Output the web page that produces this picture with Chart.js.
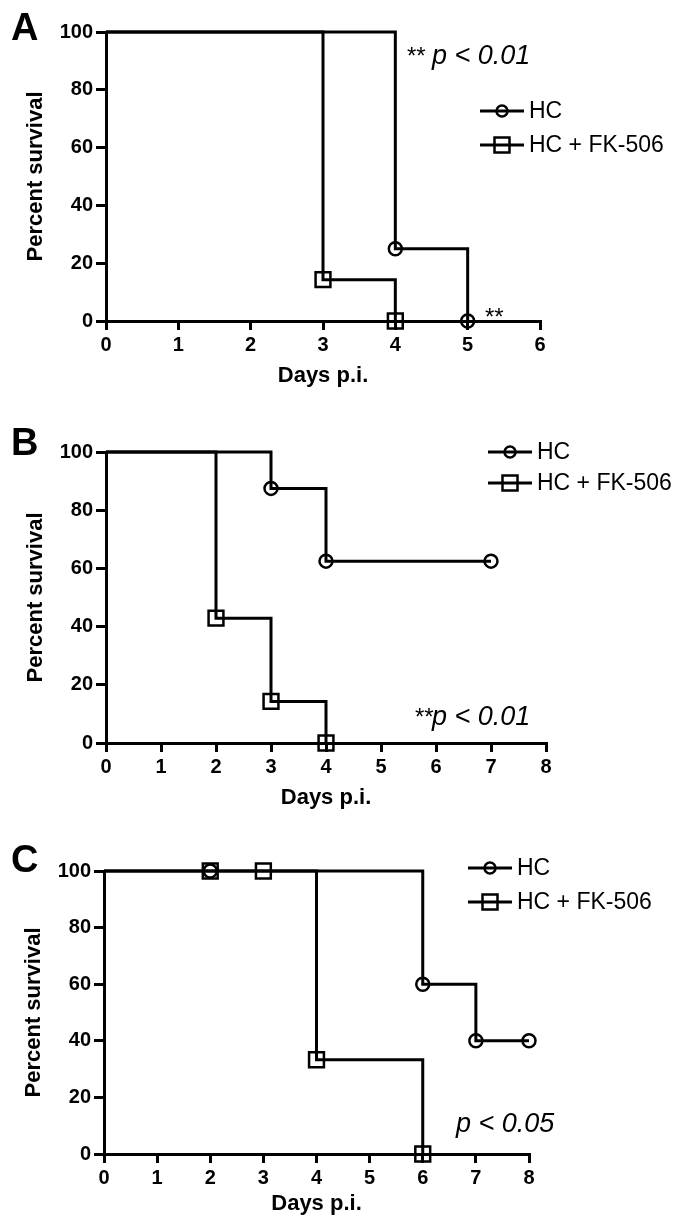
<!DOCTYPE html>
<html>
<head>
<meta charset="utf-8">
<script src="https://cdn.jsdelivr.net/npm/chart.js@4"></script>
<style>
  body { margin: 0; background: #fff; }
  #wrap { position: relative; width: 682px; height: 1228px; }
  .panel { position: absolute; left: 0; }
</style>
</head>
<body>
<div id="wrap">
  <div class="panel" style="top:0;width:682px;height:400px"><canvas id="panelA"></canvas></div>
  <div class="panel" style="top:400px;width:682px;height:422px"><canvas id="panelB"></canvas></div>
  <div class="panel" style="top:815px;width:682px;height:413px"><canvas id="panelC"></canvas></div>
</div>
<script>
// survival data (days p.i. / percent survival)
var seriesNames = ["HC", "HC + FK-506"];

var daysA_HC = [0, 4, 5];
var survA_HC = [100, 25, 0];
var daysA_FK = [0, 3, 4];
var survA_FK = [100, 14.3, 0];

var daysB_HC = [0, 3, 4, 7];
var survB_HC = [100, 87.5, 62.5, 62.5];
var daysB_FK = [0, 2, 3, 4];
var survB_FK = [100, 42.9, 14.3, 0];

var daysC_HC = [0, 2, 6, 7, 8];
var survC_HC = [100, 100, 60, 40, 40];
var daysC_FK = [0, 2, 3, 4, 6];
var survC_FK = [100, 100, 100, 33.3, 0];

var xMaxA = 6, xMaxB = 8, xMaxC = 8;
var yTicks = [0, 20, 40, 60, 80, 100];

var FONT = "'Liberation Sans', Arial, sans-serif";
var LW = 3;

function pts(days, surv) {
  return days.map(function (d, i) { return { x: d, y: surv[i] }; });
}

function kmSet(label, days, surv, style, r) {
  return {
    label: label,
    data: pts(days, surv),
    stepped: true,
    borderColor: '#000',
    borderWidth: LW,
    pointStyle: style,
    pointRadius: days.map(function (d, i) { return i === 0 ? 0 : r; }),
    pointBorderWidth: 2.5,
    pointBorderColor: '#000',
    pointBackgroundColor: 'rgba(0,0,0,0)',
    clip: false
  };
}

// legend + annotations drawn onto the canvas
var extrasPlugin = {
  id: 'extras',
  afterDraw: function (chart) {
    var o = chart.options.plugins.extras;
    var c = chart.ctx;
    c.save();
    c.fillStyle = '#000';
    c.strokeStyle = '#000';
    // panel letter
    c.font = 'bold 38px ' + FONT;
    c.textBaseline = 'alphabetic';
    c.textAlign = 'left';
    c.fillText(o.letter, 11, o.letterY);
    // legend
    o.legendY.forEach(function (y, i) {
      var x0 = o.legendX, x1 = o.legendX + 44, xm = (x0 + x1) / 2;
      c.lineWidth = LW;
      c.beginPath(); c.moveTo(x0, y); c.lineTo(x1, y); c.stroke();
      c.lineWidth = 2.5;
      c.beginPath();
      if (i === 0) c.arc(xm, y, 5.5, 0, Math.PI * 2);
      else c.rect(xm - 7.5, y - 7.5, 15, 15);
      c.stroke();
      c.font = '23px ' + FONT;
      c.textBaseline = 'middle';
      c.fillText(seriesNames[i], x1 + 5, y + 1);
    });
    // p value
    c.textBaseline = 'alphabetic';
    var x = o.pX;
    if (o.stars) {
      c.font = '24px ' + FONT;
      c.fillText('**', x, o.pY);
      x += o.starGap;
    }
    c.font = 'italic 27px ' + FONT;
    c.fillText(o.pText, x, o.pY);
    if (o.extraStar) {
      c.font = '24px ' + FONT;
      c.fillText('**', o.extraStar[0], o.extraStar[1]);
    }
    c.restore();
  }
};

function makePanel(id, H, box, xMax, sets, extras) {
  var ctx = document.getElementById(id).getContext('2d');
  return new Chart(ctx, {
    type: 'line',
    data: { datasets: sets },
    options: {
      responsive: true,
      maintainAspectRatio: false,
      animation: false,
      layout: { padding: { left: 0, top: box.top, right: 682 - box.right, bottom: 0 } },
      plugins: { legend: { display: false }, tooltip: { enabled: false }, extras: extras },
      scales: {
        x: {
          type: 'linear', min: 0, max: xMax,
          afterFit: function (s) { s.height = H - box.bottom; },
          afterBuildTicks: function (s) {
            var t = []; for (var i = 0; i <= xMax; i++) t.push({ value: i }); s.ticks = t;
          },
          border: { display: true, color: '#000', width: LW },
          grid: { display: true, drawOnChartArea: false, drawTicks: true, tickLength: 9, color: '#000', lineWidth: LW },
          ticks: { color: '#000', padding: 3, font: { family: FONT, size: 20, weight: 'bold' } },
          title: { display: true, text: 'Days p.i.', color: '#000', padding: { top: 0, bottom: box.xTitlePad },
                   font: { family: FONT, size: 22, weight: 'bold' } }
        },
        y: {
          type: 'linear', min: 0, max: 100,
          afterFit: function (s) { s.width = box.left; },
          afterBuildTicks: function (s) { s.ticks = yTicks.map(function (v) { return { value: v }; }); },
          border: { display: true, color: '#000', width: LW },
          grid: { display: true, drawOnChartArea: false, drawTicks: true, tickLength: 10, color: '#000', lineWidth: LW },
          ticks: { color: '#000', padding: 3, font: { family: FONT, size: 20, weight: 'bold' } },
          title: { display: true, text: 'Percent survival', color: '#000', padding: { top: box.yTitlePad, bottom: 0 },
                   font: { family: FONT, size: 22, weight: 'bold' } }
        }
      }
    },
    plugins: [extrasPlugin]
  });
}

makePanel('panelA', 400, { left: 106, right: 540, top: 32, bottom: 321, xTitlePad: 11, yTitlePad: 23 }, xMaxA,
  [kmSet(seriesNames[0], daysA_HC, survA_HC, 'circle', 6.5), kmSet(seriesNames[1], daysA_FK, survA_FK, 'rect', 10.5)],
  { letter: 'A', letterY: 40, legendX: 480, legendY: [111, 145], pText: 'p < 0.01', pX: 407, pY: 64, stars: true, starGap: 25,
    extraStar: [485, 325] });

makePanel('panelB', 422, { left: 106, right: 546, top: 52, bottom: 343, xTitlePad: 11, yTitlePad: 23 }, xMaxB,
  [kmSet(seriesNames[0], daysB_HC, survB_HC, 'circle', 6.5), kmSet(seriesNames[1], daysB_FK, survB_FK, 'rect', 10.5)],
  { letter: 'B', letterY: 55, legendX: 488, legendY: [52, 83], pText: 'p < 0.01', pX: 415, pY: 325, stars: true, starGap: 17 });

makePanel('panelC', 413, { left: 104, right: 529, top: 56, bottom: 339, xTitlePad: 11, yTitlePad: 21 }, xMaxC,
  [kmSet(seriesNames[0], daysC_HC, survC_HC, 'circle', 6.5), kmSet(seriesNames[1], daysC_FK, survC_FK, 'rect', 10.5)],
  { letter: 'C', letterY: 57, legendX: 468, legendY: [53, 87], pText: 'p < 0.05', pX: 456, pY: 317, stars: false });
</script>
</body>
</html>
